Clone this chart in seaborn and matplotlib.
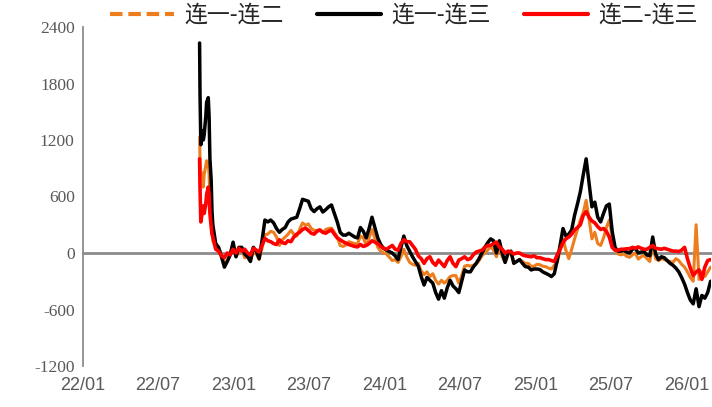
import matplotlib
matplotlib.use("Agg")
import matplotlib.pyplot as plt
import matplotlib.dates as mdates
from matplotlib.font_manager import FontProperties
import seaborn as sns
import pandas as pd
import numpy as np

# ---------------- data ----------------
labels = ["连一-连二", "连一-连三", "连二-连三"]
colors = ["#EE7D1E", "#000000", "#FF0000"]
ytick_vals = [-1200, -600, 0, 600, 1200, 1800, 2400]

spike_dates = ["2022-10-10", "2022-10-11", "2022-10-13", "2022-10-17", "2022-10-19",
               "2022-10-21", "2022-10-25", "2022-10-27", "2022-10-31", "2022-11-02",
               "2022-11-04", "2022-11-07", "2022-11-09"]
weekly_start = "2022-11-11"
weekly_count = 173

spread12_spike = [1230, 1000, 820, 850, 700, 830, 930, 980, 950, 830, 580, 500, 250]
spread13_spike = [2230, 1700, 1150, 1300, 1200, 1250, 1450, 1600, 1650, 1450, 1000, 780, 450]
spread23_spike = [1000, 700, 330, 450, 500, 420, 520, 620, 700, 620, 420, 280, 200]

spread13_weekly = [
    300, 100, 60, -40, -150, -90, -20, 115, -40, 60,
    60, -10, -40, -90, 60, 20, -60, 130, 350, 330,
    350, 320, 260, 220, 250, 270, 330, 360, 370, 380,
    470, 570, 560, 550, 470, 440, 470, 490, 435, 460,
    490, 510, 420, 330, 220, 190, 190, 210, 190, 170,
    160, 270, 230, 160, 260, 380, 270, 160, 90, 50,
    30, 15, 0, -30, -70, 60, 180, 80, 20, -40,
    -90, -140, -250, -340, -260, -290, -320, -420, -490, -400,
    -480, -370, -290, -350, -380, -420, -300, -180, -200, -200,
    -150, -110, -60, 0, 60, 110, 150, 130, 0, 130,
    0, -100, 0, 20, -110, -90, -70, -110, -145, -150,
    -180, -170, -170, -175, -200, -215, -230, -250, -220, -80,
    80, 260, 180, 200, 245, 400, 520, 650, 830, 1000,
    740, 490, 540, 380, 330, 420, 500, 520, 230, 60,
    20, 20, 30, 10, 0, 40, 50, 0, 10, 15,
    -20, -30, 170, -10, -70, -40, -50, -80, -110, -130,
    -160, -200, -260, -330, -420, -500, -540, -380, -570, -450,
    -480, -420, -300]

spread23_weekly = [
    170, 40, 20, -30, -50, 0, -20, 40, 0, 50,
    20, 40, 0, -20, 50, 30, 10, 80, 155, 130,
    120, 100, 90, 140, 110, 100, 130, 120, 170, 200,
    220, 250, 265, 240, 210, 200, 230, 245, 220, 210,
    230, 245, 200, 160, 140, 120, 105, 90, 80, 70,
    65, 90, 70, 80, 100, 130, 115, 100, 70, 50,
    40, 60, 80, 40, 30, 100, 140, 120, 120, 80,
    40, -30, -60, -110, -60, -40, -100, -130, -75, -110,
    -145, -80, -40, -110, -145, -75, -60, -40, -70, -60,
    -20, 10, 20, 30, 60, 80, 80, 100, 115, 65,
    40, 0, 20, 10, -10, 0, 0, -20, -30, -35,
    -40, -30, -50, -50, -60, -70, -70, -80, -90, -20,
    40, 110, 150, 170, 200, 245, 270, 300, 400, 440,
    380, 340, 320, 280, 250, 260, 230, 170, 60, 30,
    30, 40, 40, 45, 45, 60, 50, 65, 50, 40,
    40, 60, 80, 50, 45, 40, 50, 40, 30, 20,
    20, 15, 30, 60, -60, -160, -240, -200, -180, -280,
    -150, -80, -70]

spread12_weekly = [
    130, 60, 40, -10, -100, -90, 0, 75, -40, 10,
    40, -50, -40, -70, 10, -10, -70, 50, 195, 200,
    230, 220, 170, 80, 140, 170, 200, 240, 200, 180,
    250, 320, 295, 310, 260, 240, 240, 245, 215, 250,
    260, 265, 220, 170, 80, 70, 85, 120, 110, 100,
    95, 180, 160, 80, 160, 250, 155, 60, 20, 0,
    -10, -45, -80, -70, -100, -40, 40, -40, -100, -120,
    -130, -110, -190, -230, -200, -250, -220, -290, -330, -290,
    -320, -290, -250, -240, -240, -320, -240, -140, -130, -140,
    -130, -120, -80, -30, 0, 30, 70, 30, -40, 60,
    -40, -100, -20, 10, -100, -90, -70, -90, -110, -110,
    -140, -140, -120, -125, -140, -145, -160, -170, -130, -100,
    30, 150, 30, -60, 40, 150, 250, 350, 430, 560,
    360, 150, 220, 100, 80, 160, 270, 350, 170, 30,
    -10, -20, -10, -35, -45, -20, 0, -65, -40, -25,
    -60, -90, 90, -60, -80, -60, -70, -80, -90, -100,
    -60, -80, -120, -150, -200, -260, -300, 300, -280, -200,
    -250, -200, -150]

# ---------------- build table ----------------
dates = pd.to_datetime(spike_dates).append(
    pd.date_range(weekly_start, periods=weekly_count, freq="7D"))
series = [spread12_spike + spread12_weekly,
          spread13_spike + spread13_weekly,
          spread23_spike + spread23_weekly]
frames = [pd.DataFrame({"date": dates, "value": v, "series": lab})
          for v, lab in zip(series, labels)]

# ---------------- plot ----------------
sns.set_theme(style="white")
plt.rcParams["font.family"] = ["Noto Sans CJK SC", "DejaVu Sans"]
plt.rcParams["axes.unicode_minus"] = False

W, H = 712, 407
fig = plt.figure(figsize=(W / 100, H / 100), dpi=100)
ax = fig.add_axes([83 / W, 1 - 366 / H, (711 - 83) / W, (366 - 27) / H])

lws = [2.2, 2.5, 2.6]
for df, c, lw, lab in zip(frames, colors, lws, labels):
    sns.lineplot(data=df, x="date", y="value", color=c, linewidth=lw,
                 label=lab, ax=ax, errorbar=None)

ax.set_xlim(pd.Timestamp("2022-01-01"), pd.Timestamp("2026-02-28"))
ax.set_ylim(-1200, 2400)
ax.set_yticks(ytick_vals)
ax.set_xlabel("")
ax.set_ylabel("")

axis_gray = "#8C8C8C"
label_gray = "#595959"
for s in ["top", "right"]:
    ax.spines[s].set_visible(False)
ax.spines["left"].set_color(axis_gray)
ax.spines["left"].set_linewidth(1.3)
ax.spines["bottom"].set_position(("data", 0))
ax.spines["bottom"].set_color(axis_gray)
ax.spines["bottom"].set_linewidth(2.0)
ax.spines["bottom"].set_zorder(1)

ax.xaxis.set_major_locator(mdates.MonthLocator(bymonth=[1, 7]))
ax.xaxis.set_major_formatter(mdates.DateFormatter("%y/%m"))
ax.tick_params(axis="x", direction="in", length=4.5, width=1.3, color=axis_gray,
               pad=89, labelcolor=label_gray)
ax.tick_params(axis="y", direction="in", length=4, width=1.3, color=axis_gray,
               pad=6, labelcolor=label_gray)
for t in ax.get_xticklabels():
    t.set_fontproperties(FontProperties(family=["Liberation Sans Narrow", "Liberation Sans"], size=13))
for t in ax.get_yticklabels():
    t.set_fontproperties(FontProperties(family=["Liberation Serif"], size=12.5))

leg = ax.legend(loc="lower left", bbox_to_anchor=(0.043, 1.0), ncol=3, frameon=False,
                handlelength=2.8, handletextpad=0.45, columnspacing=1.45, borderpad=0,
                borderaxespad=0.0,
                prop=FontProperties(family=["Noto Sans CJK SC", "DejaVu Sans"], size=16.5))
for i, h in enumerate(leg.get_lines()):
    h.set_linewidth(3)
    if i == 0:
        h.set_linestyle((0, (3, 1.4)))

fig.savefig("out.png", dpi=100)
